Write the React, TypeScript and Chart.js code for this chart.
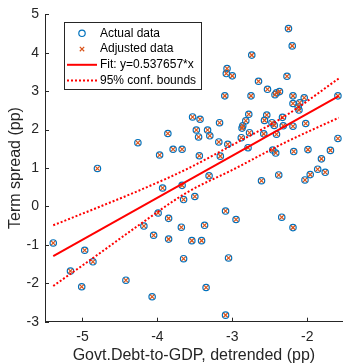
import React, { useEffect, useRef } from 'react';
import { Chart, registerables } from 'chart.js';

Chart.register(...registerables);

const actualX = [
  -2.25, -2.2, -2.74, -3.07, -3.08, -3.0, -2.27, -2.65, -2.53, -2.41,
  -2.43, -2.37, -3.1, -2.75, -2.19, -2.04, -2.1, -2.19, -1.59, -2.12,
  -2.11, -3.53, -3.43, -2.78, -2.54, -2.33, -3.17, -2.82, -2.57, -2.47,
  -2.86, -2.87, -3.48, -3.33, -2.44, -2.32, -2.19, -2.02, -3.3, -3.45,
  -2.77, -2.58, -2.41, -2.88, -3.18, -3.06, -2.79, -1.59, -3.67, -2.46,
  -2.42, -1.99, -1.69, -3.44, -3.16, -1.81, -2.18, -3.86, -4.26, -3.79,
  -3.97, -1.86, -1.76, -1.96, -2.38, -2.03, -2.61, -3.31, -3.67, -3.93,
  -3.65, -3.5, -3.99, -3.85, -3.09, -2.95, -2.34, -2.19, -4.18, -3.68,
  -3.37, -4.05, -3.85, -3.54, -3.41, -5.39, -4.97, -4.86, -5.16, -5.01,
  -4.42, -4.07, -3.65, -3.05, -3.35, -3.09, -4.8,
];
const actualY = [
  4.63, 4.18, 3.94, 3.59, 3.46, 3.4, 3.39, 3.26, 3.05, 2.96,
  2.91, 2.99, 2.88, 2.88, 2.88, 2.83, 2.7, 2.68, 2.88, 2.59,
  2.51, 2.33, 2.27, 2.4, 2.38, 2.32, 2.18, 2.23, 2.24, 2.18,
  2.1, 2.04, 1.99, 1.99, 2.11, 2.1, 2.09, 2.16, 1.84, 1.81,
  1.92, 1.89, 1.88, 1.79, 1.68, 1.62, 1.53, 1.77, 1.49, 1.47,
  1.39, 1.48, 1.46, 1.32, 1.31, 1.24, 1.43, 1.9, 1.66, 1.49,
  1.34, 0.97, 0.89, 0.83, 0.82, 0.69, 0.67, 0.8, 0.55, 0.48,
  0.18, 0.26, -0.17, -0.31, -0.12, -0.34, -0.28, -0.55, -0.51, -0.54,
  -0.49, -0.75, -0.85, -0.89, -0.89, -0.95, -1.14, -1.44, -1.68, -2.09,
  -1.92, -2.35, -1.36, -1.34, -2.11, -2.83, 0.99,
];
// Adjusted data coincides with the actual data in the picture
const adjustedX = actualX.slice();
const adjustedY = actualY.slice();

const fitX = [-5.39, -1.58];
const fitY = [-1.29, 2.87];

const boundX = [-5.39, -4.8, -4.25, -3.6, -3.0, -2.29, -1.58];
const upperY = [-0.49, -0.03, 0.41, 0.98, 1.6, 2.36, 3.33];
const lowerY = [-2.07, -1.26, -0.49, 0.37, 0.95, 1.67, 2.31];

const xTicks = [-5, -4, -3, -2];
const yTicks = [-3, -2, -1, 0, 1, 2, 3, 4, 5];

const labels = {
  actual: 'Actual data',
  adjusted: 'Adjusted data',
  fit: 'Fit: y=0.537657*x',
  bounds: '95% conf. bounds',
  xTitle: 'Govt.Debt-to-GDP, detrended (pp)',
  yTitle: 'Term spread (pp)',
};

const FONT = '"Liberation Sans", Arial, Helvetica, sans-serif';
const AXIS = '#262626';
const BLUE = '#0072BD';
const ORANGE = '#D95319';
const RED = '#FF0000';

const pts = (xs: number[], ys: number[]) => xs.map((x, i) => ({ x, y: ys[i] }));

const innerTicks = {
  id: 'innerTicks',
  afterDraw(chart: any) {
    const { ctx, chartArea, scales } = chart;
    ctx.save();
    ctx.strokeStyle = AXIS;
    ctx.lineWidth = 1;
    ctx.beginPath();
    xTicks.forEach((v) => {
      const px = Math.round(scales.x.getPixelForValue(v)) + 0.5;
      ctx.moveTo(px, chartArea.bottom);
      ctx.lineTo(px, chartArea.bottom - 4);
    });
    yTicks.forEach((v) => {
      const py = Math.round(scales.y.getPixelForValue(v)) + 0.5;
      ctx.moveTo(chartArea.left, py);
      ctx.lineTo(chartArea.left + 4, py);
    });
    ctx.stroke();
    ctx.restore();
  },
};

const boxLegend = {
  id: 'boxLegend',
  afterDraw(chart: any) {
    const ctx = chart.ctx;
    const ds = chart.data.datasets;
    const entries = [ds[4], ds[3], ds[0], ds[1]];
    ctx.save();
    ctx.fillStyle = '#ffffff';
    ctx.fillRect(64.5, 22.5, 137, 67);
    ctx.strokeStyle = AXIS;
    ctx.lineWidth = 1;
    ctx.strokeRect(64.5, 22.5, 137, 67);
    entries.forEach((d: any, i: number) => {
      const y = 33.3 + i * 15.75;
      ctx.save();
      ctx.strokeStyle = d.borderColor;
      if (d.kind === 'circle') {
        ctx.lineWidth = 1.2;
        ctx.beginPath();
        ctx.arc(82, y, 3.2, 0, Math.PI * 2);
        ctx.stroke();
      } else if (d.kind === 'cross') {
        ctx.lineWidth = 1.2;
        const r = 2.2;
        ctx.beginPath();
        ctx.moveTo(82 - r, y - r);
        ctx.lineTo(82 + r, y + r);
        ctx.moveTo(82 - r, y + r);
        ctx.lineTo(82 + r, y - r);
        ctx.stroke();
      } else {
        ctx.lineWidth = 2;
        ctx.setLineDash(d.borderDash || []);
        ctx.beginPath();
        ctx.moveTo(67, y);
        ctx.lineTo(97, y);
        ctx.stroke();
      }
      ctx.restore();
      ctx.fillStyle = '#000000';
      ctx.font = `12px ${FONT}`;
      ctx.textAlign = 'left';
      ctx.textBaseline = 'middle';
      ctx.fillText(d.label, 100, y);
    });
    ctx.restore();
  },
};

export default function App() {
  const ref = useRef<HTMLCanvasElement | null>(null);

  useEffect(() => {
    if (!ref.current) return;
    const chart = new Chart(ref.current, {
      type: 'scatter',
      data: {
        datasets: [
          {
            label: labels.fit,
            data: pts(fitX, fitY),
            showLine: true,
            borderColor: RED,
            backgroundColor: RED,
            borderWidth: 2,
            pointRadius: 0,
            kind: 'line',
          } as any,
          {
            label: labels.bounds,
            data: pts(boundX, upperY),
            showLine: true,
            borderColor: RED,
            backgroundColor: RED,
            borderWidth: 2,
            borderDash: [2, 2],
            pointRadius: 0,
            cubicInterpolationMode: 'monotone',
            kind: 'line',
          } as any,
          {
            label: labels.bounds,
            data: pts(boundX, lowerY),
            showLine: true,
            borderColor: RED,
            backgroundColor: RED,
            borderWidth: 2,
            borderDash: [2, 2],
            pointRadius: 0,
            cubicInterpolationMode: 'monotone',
            kind: 'line',
          } as any,
          {
            label: labels.adjusted,
            data: pts(adjustedX, adjustedY),
            pointStyle: 'crossRot',
            pointRadius: 3,
            borderColor: ORANGE,
            backgroundColor: ORANGE,
            pointBorderWidth: 1.2,
            kind: 'cross',
          } as any,
          {
            label: labels.actual,
            data: pts(actualX, actualY),
            pointStyle: 'circle',
            pointRadius: 3.2,
            borderColor: BLUE,
            backgroundColor: 'rgba(0,0,0,0)',
            pointBorderWidth: 1.2,
            kind: 'circle',
          } as any,
        ],
      },
      options: {
        animation: false,
        responsive: false,
        maintainAspectRatio: false,
        layout: { padding: { top: 13, right: 0, left: 0, bottom: 0 } },
        plugins: {
          legend: { display: false },
          tooltip: { enabled: false },
        },
        scales: {
          x: {
            type: 'linear',
            min: -5.5,
            max: -1.525,
            afterBuildTicks: (s: any) => {
              s.ticks = xTicks.map((v) => ({ value: v }));
            },
            afterFit: (s: any) => {
              s.height = 42.3;
            },
            grid: { display: false, drawTicks: false },
            border: { display: true, color: AXIS, width: 1 },
            ticks: {
              font: { size: 14, family: FONT },
              color: AXIS,
              padding: 7,
            },
            title: {
              display: true,
              text: labels.xTitle,
              font: { size: 16, family: FONT, lineHeight: 1 },
              color: AXIS,
              padding: { top: 0, bottom: 0 },
            },
          },
          y: {
            type: 'linear',
            min: -3,
            max: 5,
            afterBuildTicks: (s: any) => {
              s.ticks = yTicks.map((v) => ({ value: v }));
            },
            afterFit: (s: any) => {
              s.width = 45;
            },
            grid: { display: false, drawTicks: false },
            border: { display: true, color: AXIS, width: 1 },
            ticks: {
              font: { size: 14, family: FONT },
              color: AXIS,
              padding: 6,
            },
            title: {
              display: true,
              text: labels.yTitle,
              font: { size: 16, family: FONT, lineHeight: 1 },
              color: AXIS,
              padding: { top: 8, bottom: 0 },
            },
          },
        },
      } as any,
      plugins: [innerTicks, boxLegend],
    });
    return () => chart.destroy();
  }, []);

  return (
    <div style={{ position: 'absolute', left: 0, top: 0, width: 348, height: 364, background: '#fff' }}>
      <canvas ref={ref} width={348} height={364} style={{ width: 348, height: 364, display: 'block' }} />
    </div>
  );
}
